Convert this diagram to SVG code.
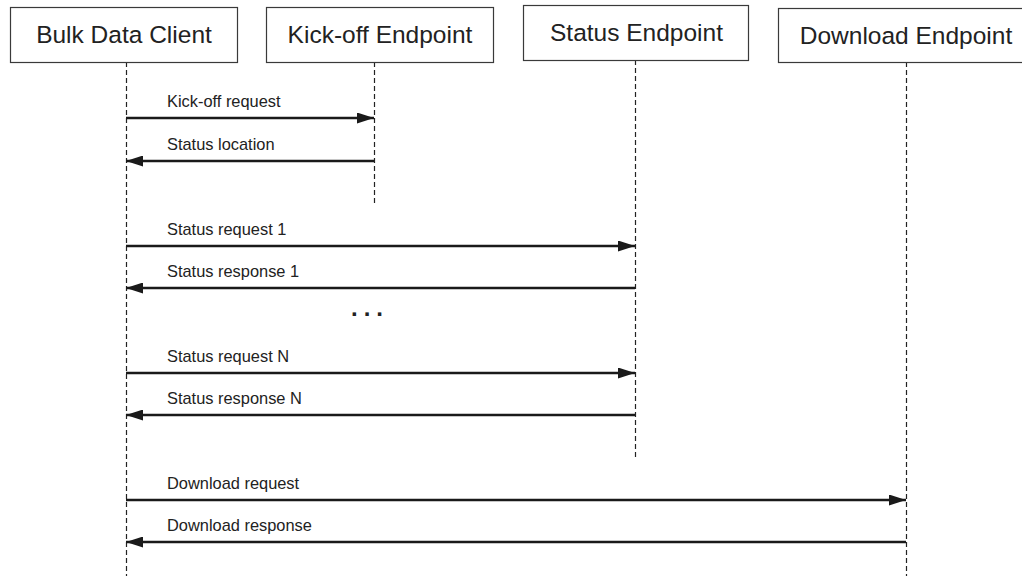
<svg xmlns="http://www.w3.org/2000/svg" width="1022" height="576" viewBox="0 0 1022 576">
<style>
.box{fill:#fff;stroke:#3a3a3a;stroke-width:1.2}
.hdr{font-family:"Liberation Sans",Arial,sans-serif;font-size:24.5px;fill:#222;text-anchor:middle}
.lbl{font-family:"Liberation Sans",Arial,sans-serif;font-size:16.4px;fill:#222}
.life{stroke:#222;stroke-width:1.2;stroke-dasharray:5 3;fill:none}
.msg{stroke:#1a1a1a;stroke-width:2.6;fill:none}
</style>
<defs>
<marker id="ah" viewBox="0 0 17 11" refX="17" refY="5.5" markerWidth="17" markerHeight="11" markerUnits="userSpaceOnUse" orient="auto">
<path d="M0,0 L17,5.5 L0,11 Z" fill="#1a1a1a"/>
</marker>
</defs>
<rect width="1022" height="576" fill="#fff"/>
<g id="lifelines">
<line class="life" x1="126.5" y1="62" x2="126.5" y2="576"/>
<line class="life" x1="374.5" y1="62" x2="374.5" y2="204"/>
<line class="life" x1="635.5" y1="60" x2="635.5" y2="460"/>
<line class="life" x1="906.5" y1="62" x2="906.5" y2="576"/>
</g>
<g id="client"><rect class="box" x="10.5" y="7.5" width="227" height="55"/><text class="hdr" x="124" y="43">Bulk Data Client</text></g>
<g id="kickoff"><rect class="box" x="266.5" y="7.5" width="227" height="55"/><text class="hdr" x="380" y="43">Kick-off Endpoint</text></g>
<g id="status"><rect class="box" x="523.5" y="5.5" width="225" height="55"/><text class="hdr" x="636.5" y="41">Status Endpoint</text></g>
<g id="download"><rect class="box" x="778.5" y="8.5" width="256" height="54"/><text class="hdr" x="906" y="44">Download Endpoint</text></g>
<g id="connectors">
<line class="msg" x1="126" y1="118" x2="374" y2="118" marker-end="url(#ah)"/>
<text class="lbl" x="167" y="107">Kick-off request</text>
<line class="msg" x1="374" y1="161" x2="126" y2="161" marker-end="url(#ah)"/>
<text class="lbl" x="167" y="150">Status location</text>
<line class="msg" x1="126" y1="246" x2="635" y2="246" marker-end="url(#ah)"/>
<text class="lbl" x="167" y="235">Status request 1</text>
<line class="msg" x1="635" y1="288" x2="126" y2="288" marker-end="url(#ah)"/>
<text class="lbl" x="167" y="277">Status response 1</text>
<line class="msg" x1="126" y1="373" x2="635" y2="373" marker-end="url(#ah)"/>
<text class="lbl" x="167" y="362">Status request N</text>
<line class="msg" x1="635" y1="415" x2="126" y2="415" marker-end="url(#ah)"/>
<text class="lbl" x="167" y="404">Status response N</text>
<line class="msg" x1="126" y1="500" x2="906" y2="500" marker-end="url(#ah)"/>
<text class="lbl" x="167" y="489">Download request</text>
<line class="msg" x1="906" y1="542" x2="126" y2="542" marker-end="url(#ah)"/>
<text class="lbl" x="167" y="531">Download response</text>
</g>
<text x="351" y="316" font-family="Liberation Sans,Arial,sans-serif" font-size="24" font-weight="bold" fill="#222" letter-spacing="6">...</text>
</svg>
